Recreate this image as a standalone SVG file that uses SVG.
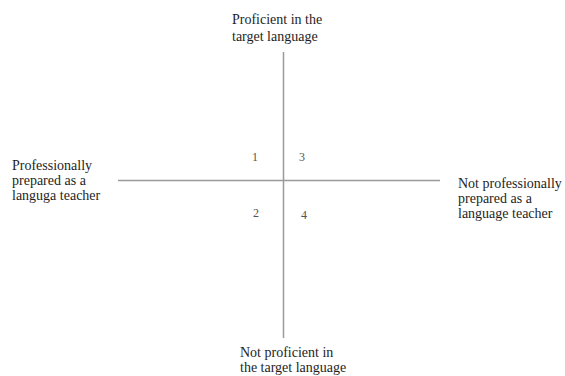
<svg xmlns="http://www.w3.org/2000/svg" width="565" height="376" viewBox="0 0 565 376">
<style>
.t{font-family:'Liberation Serif','Times New Roman',serif;font-size:14px;fill:#1e1e1e}
.ax{stroke:#9a9a9a;stroke-width:1.5;fill:none}
.n{font-family:'Liberation Serif','Times New Roman',serif;font-size:12px;fill:#555}
</style>
<rect width="565" height="376" fill="#fff"/>
<g id="connectors">
<line class="ax" x1="118" y1="180.5" x2="440" y2="180.5"/>
<line class="ax" x1="283.5" y1="52" x2="283.5" y2="338"/>
</g>
<g id="top"><text class="t" x="232" y="24">Proficient in the</text><text class="t" x="232" y="41">target language</text></g>
<g id="left"><text class="t" x="12" y="170">Professionally</text><text class="t" x="12" y="185">prepared as a</text><text class="t" x="12" y="200">languga teacher</text></g>
<g id="right"><text class="t" x="458" y="188">Not professionally</text><text class="t" x="458" y="203">prepared as a</text><text class="t" x="458" y="218">language teacher</text></g>
<g id="bottom"><text class="t" x="240" y="357">Not proficient in</text><text class="t" x="240" y="372">the target language</text></g>
<g id="q1"><text class="n" x="252" y="161">1</text></g>
<g id="q3"><text class="n" x="299" y="161">3</text></g>
<g id="q2"><text class="n" x="253" y="217">2</text></g>
<g id="q4"><text class="n" x="301" y="219">4</text></g>
</svg>
